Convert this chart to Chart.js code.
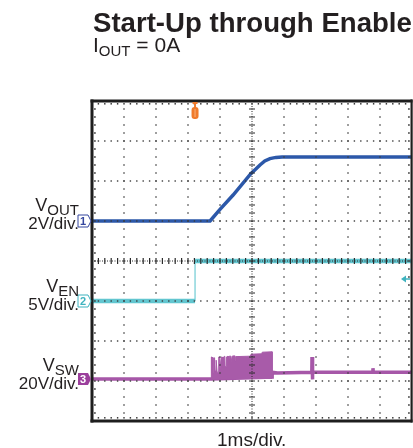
<!DOCTYPE html>
<html>
<head>
<meta charset="utf-8">
<script src="https://cdn.jsdelivr.net/npm/chart.js@4.4.1/dist/chart.umd.min.js"></script>
<style>
html, body { margin: 0; padding: 0; background: #fff; }
#wrap { position: relative; width: 413px; height: 448px; overflow: hidden;
        font-family: "Liberation Sans", Arial, Helvetica, sans-serif; color: #231f20; }
canvas { position: absolute; left: 0; top: 0; }
.t { position: absolute; line-height: 1; white-space: nowrap; }
.lbl { position: absolute; right: 334px; line-height: 1; white-space: nowrap; text-align: right; }
.big { font-size: 18px; }
.sub { position: relative; top: 4px; font-size: 15px; }
.div { font-size: 17px; }
</style>
</head>
<body>
<div id="wrap">
  <canvas id="scope" width="413" height="448"></canvas>

  <div class="t" style="left:93px; top:8.6px; font-size:27.6px; font-weight:bold;">Start-Up through Enable</div>
  <div class="t" style="left:93px; top:34.2px; font-size:21px;">I<span style="position:relative; top:4px; font-size:15px;">OUT</span> = 0A</div>

  <div class="lbl big" style="top:195.8px;">V<span class="sub">OUT</span></div>
  <div class="lbl div" style="top:214.6px;">2V/div.</div>

  <div class="lbl big" style="top:276.8px;">V<span class="sub">EN</span></div>
  <div class="lbl div" style="top:295.6px;">5V/div.</div>

  <div class="lbl big" style="top:355.8px;">V<span class="sub">SW</span></div>
  <div class="lbl div" style="top:374.6px;">20V/div.</div>

  <div class="t" style="left:217px; top:430px; font-size:19px;">1ms/div.</div>
</div>

<script>
// time in ms (1ms/div, 10 div), vertical in screen divisions (0 = bottom, 8 = top)
const vout = [[0, 5.0], [3.69, 5.0], [4.0, 5.29], [4.41, 5.65], [4.97, 6.19], [5.12, 6.3],
              [5.25, 6.4], [5.4, 6.5], [5.56, 6.56], [5.75, 6.59], [5.94, 6.6], [10, 6.6]];

const venLow = [[0, 3.0], [3.22, 3.0]];
const venHigh = [[3.22, 4.0], [10, 4.0]];

const vsw = [[0, 1.05], [3.72, 1.05], [5.63, 1.1], [5.63, 1.22], [5.8, 1.2], [6.87, 1.22],
             [6.875, 1.6], [6.885, 1.04], [6.9, 1.22], [8.77, 1.22], [8.78, 1.32], [8.79, 1.22], [10, 1.22]];

const vswBurst = [[3.72, 1.05], [3.73, 1.6], [3.75, 1.6], [3.76, 1.2], [3.79, 1.2], [3.8, 1.58],
                  [3.82, 1.58], [3.83, 1.25], [3.87, 1.25], [3.88, 1.52], [3.9, 1.52], [3.91, 1.22],
                  [3.95, 1.22], [3.96, 1.6], [3.99, 1.6], [4.0, 1.3], [4.03, 1.3], [4.04, 1.6],
                  [4.07, 1.6], [4.08, 1.35], [4.1, 1.35], [4.11, 1.6], [4.15, 1.62], [4.16, 1.36],
                  [4.19, 1.36], [4.2, 1.6], [4.25, 1.62], [4.26, 1.42], [4.28, 1.42], [4.29, 1.62],
                  [4.34, 1.62], [4.35, 1.48], [4.37, 1.48], [4.38, 1.62], [4.45, 1.63], [4.46, 1.5],
                  [4.48, 1.5], [4.49, 1.61], [4.95, 1.62], [4.97, 1.67], [5.3, 1.68], [5.32, 1.72],
                  [5.63, 1.73], [5.63, 1.1]];

// channel ground markers, trigger time and trigger level
const chLevels = [5.0, 3.0, 1.05];
const chNames = ['1', '2', '3'];
const trigTime = 3.22;
const trigLevel = 3.55;

const pts = arr => arr.map(([x, y]) => ({ x, y }));

const scopeGrid = {
    id: 'scopeGrid',
    afterDatasetsDraw(chart) {
        const { ctx, chartArea: a, scales: { x, y } } = chart;
        ctx.save();
        ctx.fillStyle = '#3b3b3b';

        // dotted graticule
        for (let i = 1; i < 10; i++) {
            if (i === 5) continue;
            const px = x.getPixelForValue(i);
            for (let k = 1; k < 40; k++) {
                ctx.fillRect(px - 0.7, y.getPixelForValue(k * 0.2) - 0.7, 1.4, 1.4);
            }
        }
        for (let j = 1; j < 8; j++) {
            if (j === 4) continue;
            const py = y.getPixelForValue(j);
            for (let k = 1; k < 50; k++) {
                ctx.fillRect(x.getPixelForValue(k * 0.2) - 0.7, py - 0.7, 1.4, 1.4);
            }
        }

        // centre axes with minor ticks
        const cx = x.getPixelForValue(5);
        const cy = y.getPixelForValue(4);
        ctx.strokeStyle = '#2b2b2b';
        ctx.lineWidth = 1;
        ctx.setLineDash([1, 1.5]);
        ctx.beginPath();
        ctx.moveTo(cx, a.top); ctx.lineTo(cx, a.bottom);
        ctx.moveTo(a.left, cy); ctx.lineTo(a.right, cy);
        ctx.stroke();
        ctx.setLineDash([]);
        ctx.lineWidth = 1.2;
        ctx.beginPath();
        for (let k = 1; k < 40; k++) {
            const py = y.getPixelForValue(k * 0.2);
            ctx.moveTo(cx - 3, py); ctx.lineTo(cx + 3, py);
        }
        for (let k = 1; k < 50; k++) {
            const px = x.getPixelForValue(k * 0.2);
            ctx.moveTo(px, cy - 3); ctx.lineTo(px, cy + 3);
        }
        ctx.stroke();

        // ticks just inside the frame
        for (let k = 1; k < 50; k++) {
            const px = x.getPixelForValue(k * 0.2);
            ctx.fillRect(px - 0.7, a.top + 2, 1.4, 1.6);
            ctx.fillRect(px - 0.7, a.bottom - 4, 1.4, 1.6);
        }
        for (let k = 1; k < 40; k++) {
            const py = y.getPixelForValue(k * 0.2);
            ctx.fillRect(a.left + 2, py - 0.7, 1.8, 1.4);
            ctx.fillRect(a.right - 4, py - 0.7, 1.8, 1.4);
        }

        // frame
        ctx.fillStyle = '#1e1e1e';
        ctx.fillRect(a.left - 1.5, a.top - 1.5, a.right - a.left + 2, 3);
        ctx.fillRect(a.left - 1.5, a.top - 1.5, 3, a.bottom - a.top + 3);
        ctx.fillRect(a.left - 1.5, a.bottom - 1.5, a.right - a.left + 2, 3);
        ctx.fillRect(a.right - 1.5, a.top - 1.5, 2.2, a.bottom - a.top + 3);
        ctx.restore();
    },
    afterDraw(chart) {
        const { ctx, chartArea: a, scales: { x, y } } = chart;
        const colors = ['#34469e', '#3fb3bf', '#9b3f9c'];
        ctx.save();
        ctx.font = 'bold 11px "Liberation Sans", Arial, sans-serif';
        ctx.textAlign = 'center';
        ctx.textBaseline = 'middle';
        chLevels.forEach((lv, i) => {
            const py = y.getPixelForValue(lv);
            const l = a.left - 14, r = a.left - 4;
            ctx.beginPath();
            ctx.moveTo(l, py - 6); ctx.lineTo(r, py - 6); ctx.lineTo(a.left - 1, py);
            ctx.lineTo(r, py + 6); ctx.lineTo(l, py + 6); ctx.closePath();
            if (i === 2) {
                ctx.fillStyle = colors[i]; ctx.fill();
                ctx.fillStyle = '#fff';
            } else {
                ctx.fillStyle = '#fff'; ctx.fill();
                ctx.strokeStyle = colors[i]; ctx.lineWidth = 1; ctx.stroke();
                ctx.fillStyle = colors[i];
            }
            ctx.fillText(chNames[i], (l + r) / 2, py + 0.5);
        });

        // trigger position marker
        const tx = x.getPixelForValue(trigTime);
        ctx.fillStyle = '#f07b2c';
        ctx.fillRect(tx - 2.5, a.top + 1, 5, 2);
        ctx.fillRect(tx - 1, a.top + 1, 2, 6);
        ctx.beginPath();
        ctx.roundRect(tx - 3.5, a.top + 6, 7, 12, 3);
        ctx.fill();
        ctx.fillStyle = '#f9b27c';
        ctx.fillRect(tx - 0.5, a.top + 8, 1, 8);

        // trigger level marker
        const ty = y.getPixelForValue(trigLevel);
        ctx.fillStyle = '#3fb3bf';
        ctx.beginPath();
        ctx.moveTo(a.right - 11, ty);
        ctx.lineTo(a.right - 6, ty - 3.5);
        ctx.lineTo(a.right - 6, ty + 3.5);
        ctx.closePath();
        ctx.fill();
        ctx.fillRect(a.right - 6, ty - 0.75, 4, 1.5);
        ctx.restore();
    }
};

new Chart(document.getElementById('scope'), {
    type: 'line',
    data: {
        datasets: [
            { data: pts(vswBurst), borderColor: '#a85ba9', backgroundColor: '#a85ba9',
              borderWidth: 1, fill: { value: 1.05 } },
            { data: pts(vsw), borderColor: '#a657a8', borderWidth: 3.5 },
            { data: pts(venLow), borderColor: '#62c6d0', borderWidth: 4.5 },
            { data: pts(venHigh), borderColor: '#62c6d0', borderWidth: 4.5 },
            { data: [pts(venLow)[1], pts(venHigh)[0]], borderColor: '#6fcbd4', borderWidth: 1.2 },
            { data: pts(vout), borderColor: '#2c58a9', borderWidth: 3.5 }
        ]
    },
    options: {
        responsive: false,
        animation: false,
        layout: { padding: { left: 92, top: 101, right: 1, bottom: 27 } },
        elements: { point: { radius: 0, hoverRadius: 0 }, line: { tension: 0, borderCapStyle: 'butt' } },
        plugins: { legend: { display: false }, tooltip: { enabled: false } },
        events: [],
        scales: {
            x: { type: 'linear', min: 0, max: 10, display: false },
            y: { type: 'linear', min: 0, max: 8, display: false }
        }
    },
    plugins: [scopeGrid]
});
</script>
</body>
</html>
